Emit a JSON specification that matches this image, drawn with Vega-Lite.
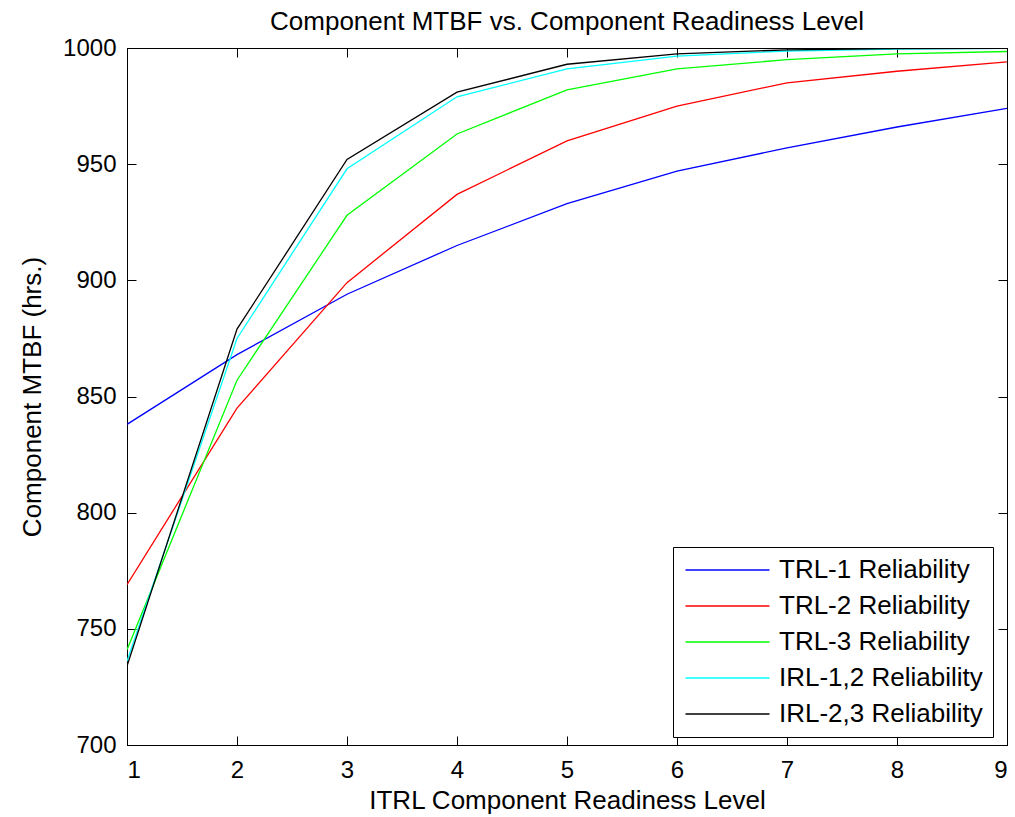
{
  "$schema": "https://vega.github.io/schema/vega-lite/v6.json",
  "autosize": "none",
  "width": 880,
  "height": 697,
  "padding": {"left": 127, "top": 48, "right": 8, "bottom": 72},
  "background": "white",
  "title": {"text": "Component MTBF vs. Component Readiness Level", "font": "Liberation Sans", "fontSize": 26, "fontWeight": "normal", "color": "black", "offset": 12, "dy": 11},
  "config": {
    "view": {"stroke": "black", "strokeWidth": 1},
    "axis": {"domainColor": "black", "domainWidth": 1, "tickColor": "black", "tickSize": -9, "tickWidth": 1, "grid": false, "labelFont": "Liberation Sans", "labelFontSize": 24, "labelColor": "black", "titleFont": "Liberation Sans", "titleFontSize": 26, "titleFontWeight": "normal", "titleColor": "black"}
  },
  "data": {"values": [
    {"trl": 1, "mtbf": 838, "series": "TRL-1 Reliability"},
    {"trl": 2, "mtbf": 868, "series": "TRL-1 Reliability"},
    {"trl": 3, "mtbf": 894, "series": "TRL-1 Reliability"},
    {"trl": 4, "mtbf": 915, "series": "TRL-1 Reliability"},
    {"trl": 5, "mtbf": 933, "series": "TRL-1 Reliability"},
    {"trl": 6, "mtbf": 947, "series": "TRL-1 Reliability"},
    {"trl": 7, "mtbf": 957, "series": "TRL-1 Reliability"},
    {"trl": 8, "mtbf": 966, "series": "TRL-1 Reliability"},
    {"trl": 9, "mtbf": 974, "series": "TRL-1 Reliability"},
    {"trl": 1, "mtbf": 769, "series": "TRL-2 Reliability"},
    {"trl": 2, "mtbf": 845, "series": "TRL-2 Reliability"},
    {"trl": 3, "mtbf": 899, "series": "TRL-2 Reliability"},
    {"trl": 4, "mtbf": 937, "series": "TRL-2 Reliability"},
    {"trl": 5, "mtbf": 960, "series": "TRL-2 Reliability"},
    {"trl": 6, "mtbf": 975, "series": "TRL-2 Reliability"},
    {"trl": 7, "mtbf": 985, "series": "TRL-2 Reliability"},
    {"trl": 8, "mtbf": 990, "series": "TRL-2 Reliability"},
    {"trl": 9, "mtbf": 994, "series": "TRL-2 Reliability"},
    {"trl": 1, "mtbf": 741, "series": "TRL-3 Reliability"},
    {"trl": 2, "mtbf": 857, "series": "TRL-3 Reliability"},
    {"trl": 3, "mtbf": 928, "series": "TRL-3 Reliability"},
    {"trl": 4, "mtbf": 963, "series": "TRL-3 Reliability"},
    {"trl": 5, "mtbf": 982, "series": "TRL-3 Reliability"},
    {"trl": 6, "mtbf": 991, "series": "TRL-3 Reliability"},
    {"trl": 7, "mtbf": 995, "series": "TRL-3 Reliability"},
    {"trl": 8, "mtbf": 997.5, "series": "TRL-3 Reliability"},
    {"trl": 9, "mtbf": 998.5, "series": "TRL-3 Reliability"},
    {"trl": 1, "mtbf": 736, "series": "IRL-1,2 Reliability"},
    {"trl": 2, "mtbf": 875, "series": "IRL-1,2 Reliability"},
    {"trl": 3, "mtbf": 948, "series": "IRL-1,2 Reliability"},
    {"trl": 4, "mtbf": 979, "series": "IRL-1,2 Reliability"},
    {"trl": 5, "mtbf": 991, "series": "IRL-1,2 Reliability"},
    {"trl": 6, "mtbf": 996.5, "series": "IRL-1,2 Reliability"},
    {"trl": 7, "mtbf": 998.7, "series": "IRL-1,2 Reliability"},
    {"trl": 8, "mtbf": 999.5, "series": "IRL-1,2 Reliability"},
    {"trl": 9, "mtbf": 999.8, "series": "IRL-1,2 Reliability"},
    {"trl": 1, "mtbf": 734, "series": "IRL-2,3 Reliability"},
    {"trl": 2, "mtbf": 879, "series": "IRL-2,3 Reliability"},
    {"trl": 3, "mtbf": 952, "series": "IRL-2,3 Reliability"},
    {"trl": 4, "mtbf": 981, "series": "IRL-2,3 Reliability"},
    {"trl": 5, "mtbf": 993, "series": "IRL-2,3 Reliability"},
    {"trl": 6, "mtbf": 997.5, "series": "IRL-2,3 Reliability"},
    {"trl": 7, "mtbf": 999.2, "series": "IRL-2,3 Reliability"},
    {"trl": 8, "mtbf": 999.7, "series": "IRL-2,3 Reliability"},
    {"trl": 9, "mtbf": 999.9, "series": "IRL-2,3 Reliability"}
  ]},
  "layer": [
    {
      "mark": {"type": "line", "strokeWidth": 1.3, "clip": true},
      "encoding": {
        "x": {"field": "trl", "type": "quantitative", "scale": {"domain": [1, 9], "nice": false, "zero": false},
              "axis": {"orient": "bottom", "values": [1,2,3,4,5,6,7,8,9], "format": "d", "labelPadding": 22, "title": "ITRL Component Readiness Level", "titlePadding": 5}},
        "y": {"field": "mtbf", "type": "quantitative", "scale": {"domain": [700, 1000], "nice": false, "zero": false},
              "axis": {"orient": "left", "values": [700,750,800,850,900,950,1000], "format": "d", "labelPadding": 20, "title": "Component MTBF (hrs.)", "titlePadding": 17}},
        "color": {"field": "series", "type": "nominal",
                  "scale": {"domain": ["TRL-1 Reliability", "TRL-2 Reliability", "TRL-3 Reliability", "IRL-1,2 Reliability", "IRL-2,3 Reliability"],
                            "range": ["#0000ff", "#ff0000", "#00ff00", "#00ffff", "#000000"]},
                  "legend": {"orient": "none", "legendX": 546, "legendY": 499, "title": null, "symbolType": "M-1,0L7,0", "symbolSize": 441, "symbolStrokeWidth": 1.5, "labelOffset": 70, "labelFont": "Liberation Sans", "labelFontSize": 26, "labelColor": "black", "rowPadding": 10, "padding": 10, "strokeColor": "black", "fillColor": "white", "cornerRadius": 0, "labelLimit": 400}},
        "order": {"field": "trl", "type": "quantitative"}
      }
    },
    {
      "mark": {"type": "line", "strokeOpacity": 0},
      "encoding": {
        "x": {"field": "trl", "type": "quantitative", "scale": {"domain": [1, 9], "nice": false, "zero": false},
              "axis": {"orient": "top", "values": [1,2,3,4,5,6,7,8,9], "labels": false, "title": null}},
        "y": {"field": "mtbf", "type": "quantitative", "scale": {"domain": [700, 1000], "nice": false, "zero": false},
              "axis": {"orient": "right", "values": [700,750,800,850,900,950,1000], "labels": false, "title": null}},
        "detail": {"field": "series", "type": "nominal"}
      }
    }
  ],
  "resolve": {"axis": {"x": "independent", "y": "independent"}}
}
